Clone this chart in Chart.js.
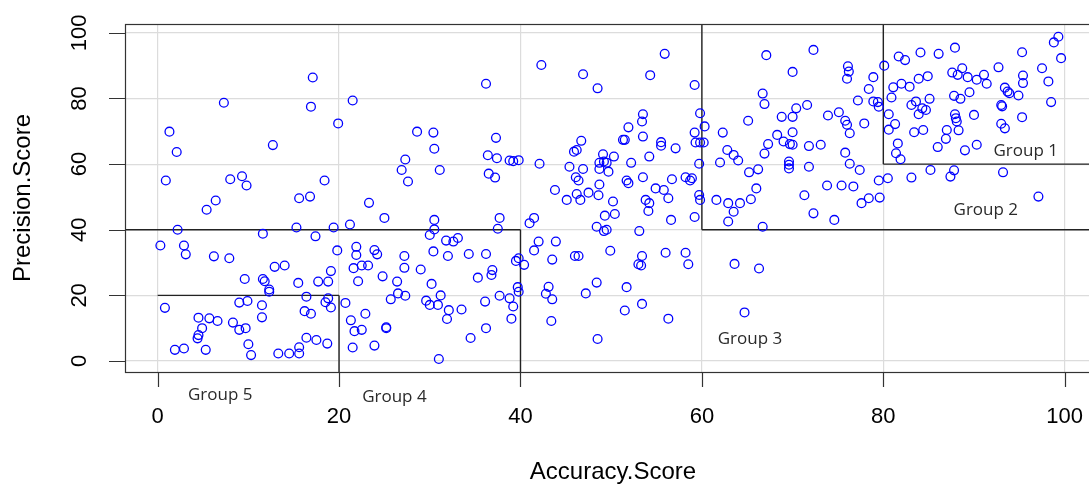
<!DOCTYPE html>
<html><head><meta charset="utf-8">
<script src="https://cdn.jsdelivr.net/npm/chart.js@4/dist/chart.umd.min.js"></script>
<style>html,body{margin:0;padding:0;background:#fff;overflow:hidden;width:1089px;height:489px}
#wrap{width:1110px;height:489px;position:relative}</style>
</head><body><div id="wrap"><canvas id="c"></canvas></div>
<script>
// Accuracy.Score (x) and Precision.Score (y), paired by index
const accuracy = [
17.1,7.3,16.9,21.5,19.9,1.3,2.1,12.7,0.9,8.0,9.3,9.8,18.4,15.6,16.8,6.4,23.3,5.4,
2.2,11.6,15.3,17.4,19.4,21.2,0.3,2.9,3.1,6.2,7.9,19.8,21.9,21.9,23.9,12.9,14.0,9.6,11.6,11.8,12.3,12.3,15.5,17.7,18.8,19.1,21.6,22.5,23.2,22.1,0.8,9.0,9.9,11.5,11.5,16.4,18.5,18.8,19.1,16.2,16.9,20.7,4.5,5.7,6.6,4.9,4.5,4.4,8.3,9.0,9.7,10.0,10.3,1.9,2.9,5.3,13.3,14.5,15.6,15.6,16.4,17.5,18.7,21.3,21.7,22.5,22.9,21.5,23.9,
25.0,30.5,30.5,30.0,37.7,37.5,31.8,32.6,33.1,24.2,27.2,30.4,32.0,34.3,36.2,27.2,29.0,36.9,36.8,35.3,39.5,39.8,40.4,24.8,26.4,30.2,26.5,27.3,25.7,29.6,30.0,31.2,30.9,32.1,31.9,33.5,36.1,37.7,38.8,39.2,39.0,39.7,39.8,25.2,25.2,34.5,36.2,31.0,
41.0,41.5,42.0,41.5,43.9,43.5,46.0,46.4,48.4,49.3,49.5,49.2,49.9,43.1,42.8,43.5,48.4,47.2,43.4,48.5,50.4,
36.2,42.3,46.9,48.5,28.6,30.4,30.5,37.3,27.3,26.9,31.1,27.6,36.4,37.4,38.8,39.2,39.8,36.5,37.2,42.1,46.7,45.9,46.2,45.4,46.9,46.1,46.4,43.8,45.1,46.2,47.5,48.6,48.7,49.1,48.7,49.2,49.5,48.7,49.7,50.3,46.6,50.2,
55.9,54.3,59.2,67.1,72.3,70.0,76.1,76.2,76.0,66.7,66.9,59.8,60.3,53.5,53.4,51.9,53.5,51.3,51.5,55.5,55.5,57.1,59.2,59.3,59.8,60.2,52.2,54.2,51.7,51.9,53.5,54.9,55.8,56.7,56.3,58.2,58.9,58.7,59.7,59.7,59.8,53.8,54.2,
62.3,65.1,68.8,70.0,70.4,71.6,73.9,75.1,75.8,76.0,76.3,70.0,68.3,69.0,69.7,70.0,67.3,66.9,62.8,63.5,64.0,62.0,71.8,73.1,75.8,76.3,69.6,69.6,69.6,71.8,65.2,66.2,66.0,71.3,73.8,75.4,76.7,61.6,62.9,64.2,65.4,
54.1,56.6,59.2,63.5,62.9,66.7,72.3,74.6,53.1,53.4,53.0,53.3,56.0,58.2,58.5,51.7,51.5,53.4,56.3,63.6,66.3,64.7,
87.9,84.1,86.1,81.7,82.4,80.1,95.3,98.8,99.3,99.6,92.7,97.5,78.9,78.4,77.2,78.9,79.4,79.5,77.9,
87.6,88.2,88.7,89.3,90.3,91.1,91.4,84.9,83.9,82.9,82.0,81.1,80.9,95.4,95.4,98.2,93.4,93.7,93.9,94.9,98.5,89.5,87.8,88.5,85.1,83.1,83.6,84.3,84.7,83.9,80.6,81.3,80.6,83.4,84.4,87.9,88.0,88.1,88.3,87.0,86.9,86.0,90.0,93.0,93.1,93.0,93.4,95.3,81.6,81.4,81.9,89.0,90.3,
77.4,79.5,80.5,83.1,85.2,87.4,87.8,93.2,78.4,79.6,77.6,97.1
];
const precision = [
86.4,78.7,77.5,79.4,72.4,69.9,63.7,65.8,55.0,55.4,56.3,53.5,55.0,49.6,50.1,48.9,48.2,46.1,
40.0,38.8,40.7,38.0,40.7,41.6,35.2,35.2,32.5,31.9,31.3,33.7,34.8,32.3,33.8,28.7,29.1,25.0,25.0,24.3,21.8,21.1,23.8,24.2,24.2,27.4,28.3,29.1,29.1,24.3,16.2,17.8,18.3,17.0,13.3,19.6,17.9,19.1,16.3,15.2,14.4,17.7,13.2,13.0,12.2,10.0,7.9,6.9,11.7,9.5,10.0,5.1,1.8,3.4,3.8,3.4,2.3,2.3,2.3,4.2,7.1,6.4,5.3,12.4,9.1,9.5,14.4,4.1,4.7,
43.6,43.0,40.1,38.4,43.6,40.3,36.7,36.4,37.5,32.5,32.0,33.4,32.0,32.6,32.6,28.4,27.9,27.7,26.2,25.4,30.5,31.3,29.3,25.8,24.2,23.5,20.6,19.9,18.8,18.4,17.1,20.0,17.1,15.5,12.8,15.7,18.1,19.9,19.1,16.6,12.9,22.5,21.1,10.3,10.0,7.0,10.0,0.6,
42.0,43.6,36.4,33.7,36.4,30.9,32.0,32.0,40.9,44.3,40.0,39.6,33.6,22.6,20.5,18.8,23.9,20.6,12.2,6.7,44.8,
84.5,90.2,87.4,83.1,69.9,69.6,64.7,68.0,61.4,58.2,58.2,54.7,62.7,61.8,61.1,60.9,61.2,57.1,55.9,60.1,67.1,63.8,64.3,59.2,58.5,56.0,55.0,52.1,49.1,50.9,51.3,50.5,53.8,63.0,60.4,60.8,60.4,58.5,57.7,62.3,49.1,48.6,
93.6,87.1,84.1,93.2,94.8,88.1,89.8,88.2,86.0,81.5,78.3,75.5,71.5,75.2,73.0,71.2,68.4,67.4,67.4,66.7,65.6,64.8,69.6,66.6,66.6,66.6,60.4,62.3,55.0,54.2,56.0,52.6,52.1,55.4,49.6,56.0,55.7,55.0,60.1,50.6,49.1,49.1,48.1,
69.6,73.2,74.4,74.4,77.0,78.0,74.8,75.8,73.2,72.0,69.4,69.7,68.9,66.9,66.1,65.9,66.1,63.2,64.3,62.8,61.1,60.5,65.5,65.9,63.5,60.1,60.8,59.8,58.7,59.2,57.5,58.4,52.6,50.5,53.5,53.5,53.2,49.1,48.1,48.1,49.3,
45.7,43.0,43.9,45.5,42.5,40.9,45.0,43.0,39.6,32.0,29.5,29.1,33.0,33.0,29.5,22.5,15.4,17.4,12.9,29.6,28.2,14.8,
95.5,94.0,93.6,92.8,91.7,90.0,94.1,97.1,98.8,92.3,89.5,89.2,86.5,82.9,79.4,79.1,78.9,77.5,72.4,
87.9,87.2,89.2,86.5,85.7,87.2,84.5,86.8,86.0,83.6,84.5,83.4,80.3,87.0,84.7,85.2,83.3,82.1,81.6,80.9,78.9,81.9,80.8,79.9,79.9,78.0,79.1,77.0,76.5,75.2,75.2,72.2,70.5,69.7,70.4,75.2,74.0,73.0,70.3,70.4,67.7,65.2,75.0,78.0,77.6,72.3,70.9,74.3,66.3,63.3,61.5,64.2,65.9,
58.2,55.0,55.7,55.9,58.2,56.2,58.1,57.5,49.6,49.8,48.1,50.1
];
const xTicks = [0, 20, 40, 60, 80, 100];
const yTicks = [0, 20, 40, 60, 80, 100];
const xTitle = 'Accuracy.Score';
const yTitle = 'Precision.Score';
// group boundary segments [x1, y1, x2, y2] in data units
const groupSegments = [
  [80, 60, 80, 120], [80, 60, 120, 60],
  [60, 40, 60, 120], [60, 40, 120, 40],
  [-20, 40, 40, 40], [40, 40, 40, -20],
  [0, 20, 20, 20], [20, 20, 20, -20]
];
const groupNames = ['Group 1', 'Group 2', 'Group 3', 'Group 4', 'Group 5'];
const groupNameX = [95.7, 91.3, 65.3, 26.1, 6.9];
const groupNameY = [64.0, 46.0, 6.7, -11.0, -10.4];

const points = accuracy.map((a, i) => ({x: a, y: precision[i]}));

const overlay = {
  id: 'overlay',
  beforeDatasetsDraw(chart) {
    const {ctx, chartArea: ca, scales: {x, y}} = chart;
    ctx.save();
    ctx.beginPath();
    ctx.rect(ca.left, ca.top, ca.right - ca.left, ca.bottom - ca.top);
    ctx.clip();
    ctx.strokeStyle = '#222';
    ctx.lineWidth = 1.4;
    groupSegments.forEach(s => {
      ctx.beginPath();
      ctx.moveTo(x.getPixelForValue(s[0]), y.getPixelForValue(s[1]));
      ctx.lineTo(x.getPixelForValue(s[2]), y.getPixelForValue(s[3]));
      ctx.stroke();
    });
    ctx.restore();
  },
  afterDraw(chart) {
    const {ctx, chartArea: ca, scales: {x, y}} = chart;
    ctx.save();
    // box
    ctx.strokeStyle = '#333';
    ctx.lineWidth = 1.2;
    ctx.strokeRect(ca.left + 0.5, ca.top + 0.5, ca.right - ca.left, ca.bottom - ca.top);
    // ticks
    ctx.beginPath();
    xTicks.forEach(v => {
      const px = Math.round(x.getPixelForValue(v)) + 0.5;
      ctx.moveTo(px, ca.bottom); ctx.lineTo(px, ca.bottom + 15);
    });
    yTicks.forEach(v => {
      const py = Math.round(y.getPixelForValue(v)) + 0.5;
      ctx.moveTo(ca.left, py); ctx.lineTo(ca.left - 16, py);
    });
    ctx.stroke();
    // tick labels
    ctx.fillStyle = '#000';
    ctx.font = '22px "Liberation Sans", Arial, sans-serif';
    ctx.textAlign = 'center';
    ctx.textBaseline = 'middle';
    xTicks.forEach(v => ctx.fillText(String(v), x.getPixelForValue(v), ca.bottom + 45));
    yTicks.forEach(v => {
      ctx.save();
      ctx.translate(ca.left - 45, y.getPixelForValue(v));
      ctx.rotate(-Math.PI / 2);
      ctx.fillText(String(v), 0, 0);
      ctx.restore();
    });
    // titles
    ctx.font = '24px "Liberation Sans", Arial, sans-serif';
    ctx.fillText(xTitle, (ca.left + ca.right) / 2, 472);
    ctx.save();
    ctx.translate(23, (ca.top + ca.bottom) / 2);
    ctx.rotate(-Math.PI / 2);
    ctx.fillText(yTitle, 0, 0);
    ctx.restore();
    // group names
    ctx.fillStyle = '#2a2a2a';
    ctx.font = '17px "Open Sans", sans-serif';
    groupNames.forEach((g, i) => ctx.fillText(g, x.getPixelForValue(groupNameX[i]), y.getPixelForValue(groupNameY[i])));
    ctx.restore();
  }
};

new Chart(document.getElementById('c'), {
  type: 'scatter',
  data: {datasets: [{
    data: points,
    pointStyle: 'circle',
    pointRadius: 4.4,
    pointBorderWidth: 1.3,
    borderColor: '#0000ff',
    backgroundColor: 'rgba(0,0,0,0)',
    pointHoverRadius: 4.4
  }]},
  options: {
    responsive: true,
    maintainAspectRatio: false,
    animation: false,
    events: [],
    layout: {padding: {top: 24, right: 9, left: 0, bottom: 0}},
    plugins: {legend: {display: false}, tooltip: {enabled: false}},
    scales: {
      x: {
        type: 'linear', min: -3.6, max: 104,
        afterBuildTicks: s => { s.ticks = xTicks.map(v => ({value: v})); },
        afterFit: s => { s.height = 117; },
        ticks: {display: false},
        grid: {color: '#dcdcdc', lineWidth: 1.2, drawTicks: false},
        border: {display: false}
      },
      y: {
        type: 'linear', min: -3.35, max: 102.7,
        afterBuildTicks: s => { s.ticks = yTicks.map(v => ({value: v})); },
        afterFit: s => { s.width = 125; },
        ticks: {display: false},
        grid: {color: '#dcdcdc', lineWidth: 1.2, drawTicks: false},
        border: {display: false}
      }
    }
  },
  plugins: [overlay]
});
</script>
</body></html>
